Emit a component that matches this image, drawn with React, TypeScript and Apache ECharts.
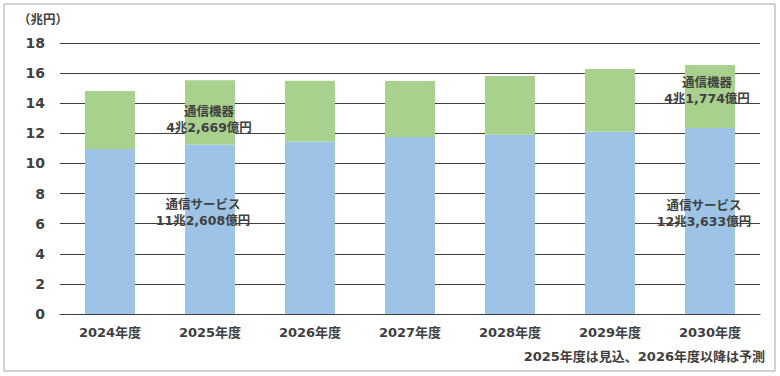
import React, { useEffect, useRef } from "react";
import * as echarts from "echarts";

const categories = ["2024年度", "2025年度", "2026年度", "2027年度", "2028年度", "2029年度", "2030年度"];
const serviceValues = [10.96, 11.26, 11.45, 11.75, 11.9, 12.1, 12.36];
const equipmentValues = [3.85, 4.27, 4.05, 3.72, 3.9, 4.17, 4.18];
const yTicks = { min: 0, max: 18, interval: 2 };
const unitLabel = "（兆円）";
const footnote = "2025年度は見込、2026年度以降は予測";
const annotations = [
  { text: "通信機器\n4兆2,669億円", x: 209, y: 119 },
  { text: "通信サービス\n11兆2,608億円", x: 203, y: 212 },
  { text: "通信機器\n4兆1,774億円", x: 707, y: 90 },
  { text: "通信サービス\n12兆3,633億円", x: 704, y: 213 },
];

const FONT = "'DejaVu Sans', 'Noto Sans CJK JP', sans-serif";
const TXT = "#404040";

export default function App() {
  const ref = useRef<HTMLDivElement>(null);
  useEffect(() => {
    document.body.style.margin = "0";
    const chart = echarts.init(ref.current!, null, { renderer: "svg" });
    chart.setOption({
      animation: false,
      textStyle: { fontFamily: FONT },
      grid: { left: 60, right: 20, top: 43, bottom: 62 },
      xAxis: {
        type: "category",
        data: categories,
        axisLine: { lineStyle: { color: "#404040", width: 1 } },
        axisTick: { show: false },
        axisLabel: { color: TXT, fontWeight: "bold", fontSize: 13, margin: 12, fontFamily: FONT },
      },
      yAxis: {
        type: "value",
        min: yTicks.min,
        max: yTicks.max,
        interval: yTicks.interval,
        axisLine: { show: false },
        axisTick: { show: false },
        axisLabel: { color: TXT, fontWeight: "bold", fontSize: 14, margin: 15, fontFamily: FONT },
        splitLine: { lineStyle: { color: "#404040", width: 1 } },
      },
      series: [
        {
          type: "bar",
          name: "通信サービス",
          stack: "total",
          data: serviceValues,
          barWidth: 50,
          itemStyle: { color: "#9DC3E6" },
        },
        {
          type: "bar",
          name: "通信機器",
          stack: "total",
          data: equipmentValues,
          barWidth: 50,
          itemStyle: { color: "#A9D18E" },
        },
      ],
      graphic: [
        {
          type: "rect",
          shape: { x: 4, y: 4, width: 771, height: 367 },
          style: { fill: "none", stroke: "#A6A6A6", lineWidth: 1 },
          silent: true,
        },
        {
          type: "text",
          x: 18,
          y: 19,
          style: { text: unitLabel, fill: TXT, font: `bold 12.5px ${FONT}`, textVerticalAlign: "middle" },
        },
        {
          type: "text",
          x: 765,
          y: 356,
          style: { text: footnote, fill: TXT, font: `bold 13px ${FONT}`, textAlign: "right", textVerticalAlign: "middle" },
        },
        ...annotations.map((a) => ({
          type: "text",
          x: a.x,
          y: a.y,
          z: 10,
          style: {
            text: a.text,
            fill: TXT,
            font: `bold 12.5px ${FONT}`,
            textAlign: "center",
            textVerticalAlign: "middle",
            lineHeight: 16,
          },
        })),
      ],
    });
    return () => chart.dispose();
  }, []);
  return <div ref={ref} style={{ width: 780, height: 376 }} />;
}
